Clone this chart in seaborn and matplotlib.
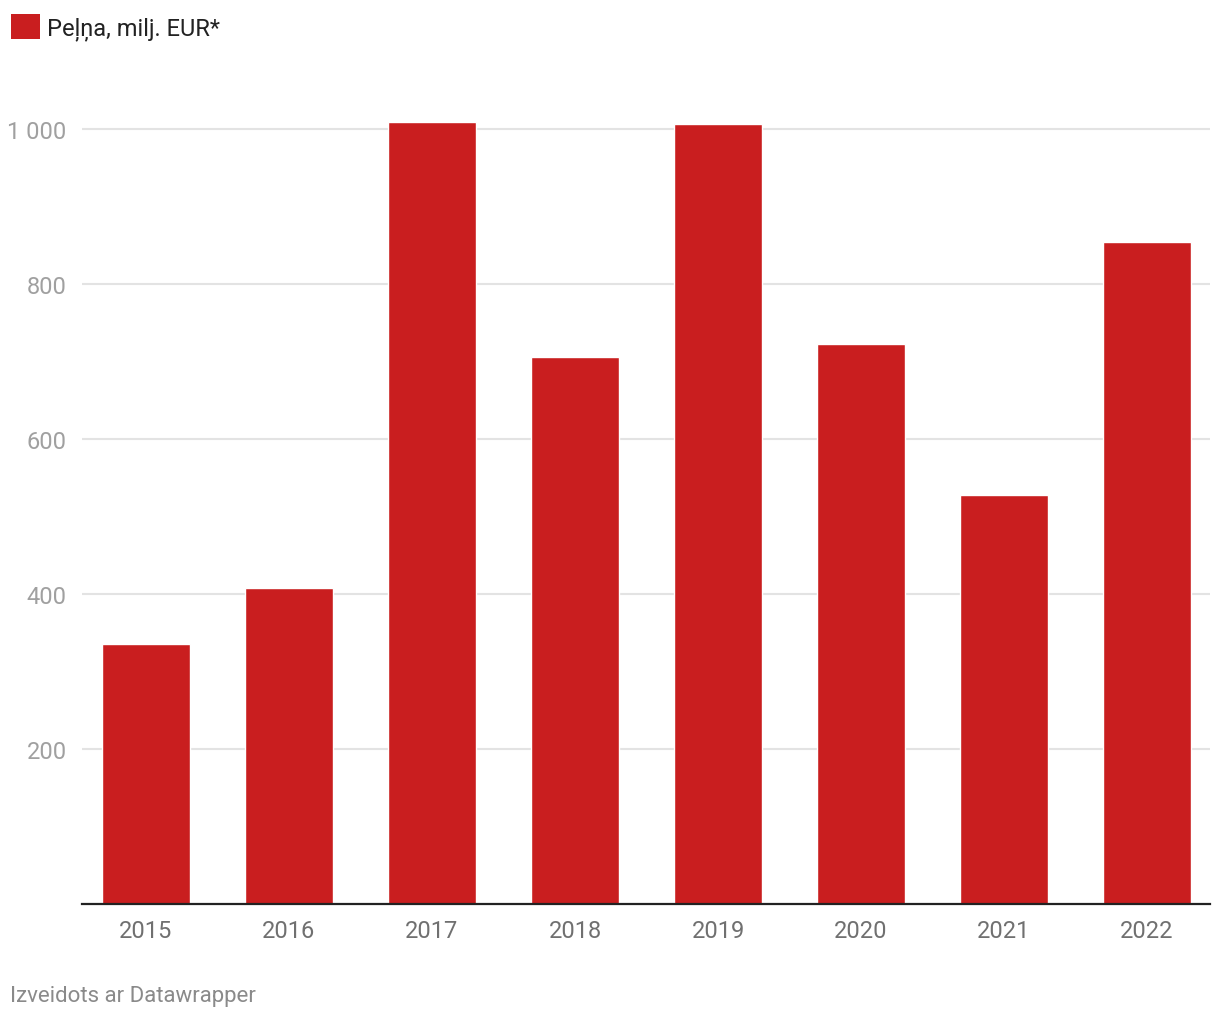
import pandas as pd
import seaborn as sns
import matplotlib.pyplot as plt
from matplotlib.patches import Patch

# data
years = ['2015', '2016', '2017', '2018', '2019', '2020', '2021', '2022']
profit = [335, 407, 1009, 706, 1006, 722, 528, 854]
ytick_vals = [200, 400, 600, 800, 1000]
ytick_labels = ['200', '400', '600', '800', '1 000']
series_name = 'Peļņa, milj. EUR*'

df = pd.DataFrame({'Gads': years, 'Pelna': profit})

sns.set_style('white')
plt.rcParams['font.family'] = ['Roboto', 'DejaVu Sans']

red = '#C91E1F'

fig = plt.figure(figsize=(12.2, 10.2), dpi=100)
ax = fig.add_axes([82 / 1220, 115 / 1020, 1128 / 1220, 800 / 1020])

sns.barplot(x='Gads', y='Pelna', data=df, color=red, width=0.62,
            saturation=1, ax=ax, zorder=3)

ax.set_xlim(-0.447, 7.44)
ax.set_ylim(0, 1032)
ax.set_yticks(ytick_vals)
ax.set_yticklabels(ytick_labels)
ax.yaxis.grid(True, color='#e3e3e3', linewidth=1.5, zorder=0)
ax.set_xlabel('')
ax.set_ylabel('')

for s in ['top', 'right', 'left']:
    ax.spines[s].set_visible(False)
ax.spines['bottom'].set_color('#222222')
ax.spines['bottom'].set_linewidth(1.6)
ax.spines['bottom'].set_zorder(5)

ax.tick_params(axis='y', length=0, pad=11, labelsize=17, labelcolor='#a0a0a0')
ax.tick_params(axis='x', length=0, pad=11, labelsize=17, labelcolor='#707070')

# legend at top left
handle = Patch(facecolor=red, edgecolor='none')
fig.legend([handle], [series_name], loc='upper left',
           bbox_to_anchor=(2 / 1220, 1 - 6 / 1020), frameon=False,
           fontsize=17, handlelength=1.2, handleheight=1.2,
           handletextpad=0.3, labelcolor='#222222', borderaxespad=0)

fig.text(10 / 1220, 1 - 997 / 1020, 'Izveidots ar Datawrapper', fontsize=16,
         color='#8a8a8a', va='center', ha='left')

fig.savefig('out.png', dpi=100, facecolor='white')
